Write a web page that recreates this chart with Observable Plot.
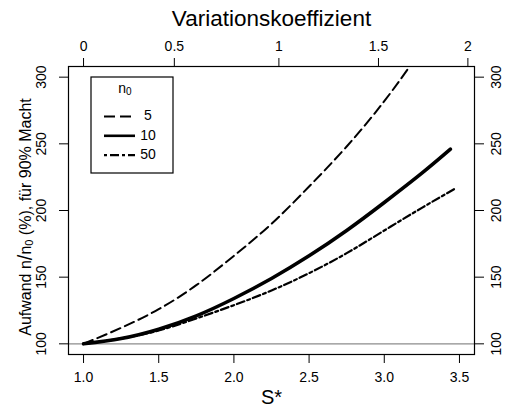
<!DOCTYPE html>
<html>
<head>
<meta charset="utf-8">
<script src="https://cdn.jsdelivr.net/npm/d3@7"></script>
<script src="https://cdn.jsdelivr.net/npm/@observablehq/plot@0.6"></script>
<style>
  html, body { margin: 0; padding: 0; background: #fff; }
  svg { font-family: "Liberation Sans", Arial, Helvetica, sans-serif; }
</style>
</head>
<body>
<div id="chart"></div>
<script>
// ---- data ----
const sN5  = [1.0, 1.25, 1.5, 1.75, 2.0, 2.25, 2.5, 2.75, 3.0, 3.2];
const vN5  = [100, 112, 126, 144, 166, 190, 218, 248, 282, 313];
const sN10 = [1.0, 1.25, 1.5, 1.75, 2.0, 2.25, 2.5, 2.75, 3.0, 3.25, 3.44];
const vN10 = [100, 104, 111, 121, 134, 149, 166, 185, 206, 228, 246];
const sN50 = [1.0, 1.25, 1.5, 1.75, 2.0, 2.25, 2.5, 2.75, 3.0, 3.25, 3.48];
const vN50 = [100, 104, 110, 119, 129, 140, 153, 168, 185, 202, 217];

const seriesLabels = ["5", "10", "50"];
const xTicks  = [1.0, 1.5, 2.0, 2.5, 3.0, 3.5];
const yTicks  = [100, 150, 200, 250, 300];
const cvTicks = [0, 0.5, 1, 1.5, 2];
const cvLabels = ["0", "0.5", "1", "1.5", "2"];

// coefficient of variation -> geometric standard deviation s*
const cvToS = cv => Math.exp(Math.sqrt(Math.log(1 + cv * cv)));
const sTop = cvTicks.map(cvToS);

const toRows = (s, v) => s.map((x, i) => ({s: x, v: v[i]}));

const font = "Liberation Sans, Arial, Helvetica, sans-serif";

const plot = Plot.plot({
  width: 508,
  height: 409,
  marginLeft: 68,
  marginRight: 34,
  marginTop: 66,
  marginBottom: 55,
  style: {fontFamily: font, background: "#fff", color: "#000"},
  x: {domain: [0.9, 3.6]},
  y: {domain: [92, 308]},
  marks: [
    Plot.ruleY([100], {stroke: "#8c8c8c", strokeWidth: 1.2}),
    Plot.line(toRows(sN5, vN5), {x: "s", y: "v", curve: "natural", stroke: "#000", strokeWidth: 2, strokeDasharray: "10,5", clip: true}),
    Plot.line(toRows(sN10, vN10), {x: "s", y: "v", curve: "natural", stroke: "#000", strokeWidth: 3.6, strokeLinecap: "round", clip: true}),
    Plot.line(toRows(sN50, vN50), {x: "s", y: "v", curve: "natural", stroke: "#000", strokeWidth: 2.2, strokeDasharray: "3,3,8,3", clip: true}),
    Plot.frame({stroke: "#000", strokeWidth: 1.2}),
    Plot.axisX({anchor: "bottom", ticks: xTicks, tickFormat: d3.format(".1f"), tickSize: 9, tickPadding: 9, fontSize: 14, label: null}),
    Plot.axisX({anchor: "top", ticks: sTop, tickFormat: d => cvLabels[sTop.findIndex(s => Math.abs(s - d) < 1e-9)], tickSize: 9, tickPadding: 7, fontSize: 14, label: null}),
    Plot.axisY({anchor: "left", ticks: yTicks, tickSize: 9, tickPadding: 14, tickRotate: -90, textAnchor: "middle", fontSize: 14, label: null}),
    Plot.axisY({anchor: "right", ticks: yTicks, tickSize: 9, tickPadding: 17, tickRotate: -90, textAnchor: "middle", fontSize: 14, label: null}),
    Plot.text(["S*"], {frameAnchor: "bottom", dy: 43, text: d => d, fontSize: 20, lineAnchor: "middle"}),
    Plot.text(["Variationskoeffizient"], {frameAnchor: "top", dy: -48, text: d => d, fontSize: 22.5, lineAnchor: "middle"})
  ]
});

document.getElementById("chart").appendChild(plot);

// ---- y-axis label with subscript ----
const svg = d3.select(plot);
const yl = svg.append("text")
  .attr("transform", "translate(27,217) rotate(-90)")
  .attr("text-anchor", "middle")
  .attr("dominant-baseline", "middle")
  .attr("font-size", 16)
  .attr("font-family", font)
  .attr("fill", "#000");
yl.append("tspan").text("Aufwand n");
yl.append("tspan").attr("font-size", 20).text("/");
yl.append("tspan").text("n");
yl.append("tspan").attr("font-size", 11).attr("dy", 3).text("0");
yl.append("tspan").attr("dy", -3).text(" (%), für 90% Macht");

// ---- legend ----
const lg = svg.append("g").attr("font-family", font).attr("font-size", 14);
lg.append("rect").attr("x", 91).attr("y", 77).attr("width", 82).attr("height", 96)
  .attr("fill", "#fff").attr("stroke", "#000").attr("stroke-width", 1.2);
const lt = lg.append("text").attr("x", 125).attr("y", 89).attr("text-anchor", "middle")
  .attr("dominant-baseline", "middle");
lt.append("tspan").text("n");
lt.append("tspan").attr("font-size", 10).attr("dy", 3).text("0");
const legendDash = {"5": "11,5", "10": null, "50": "3,3,9,3"};
const legendWidth = {"5": 2.2, "10": 2.6, "50": 2.2};
seriesLabels.forEach((lab, i) => {
  const y = 116.5 + i * 19.3;
  const ln = lg.append("line").attr("x1", 104).attr("x2", 135).attr("y1", y).attr("y2", y)
    .attr("stroke", "#000").attr("stroke-width", legendWidth[lab]);
  if (legendDash[lab]) ln.attr("stroke-dasharray", legendDash[lab]);
  lg.append("text").attr("x", 148).attr("y", y).attr("dominant-baseline", "middle").text(lab);
});
</script>
</body>
</html>
